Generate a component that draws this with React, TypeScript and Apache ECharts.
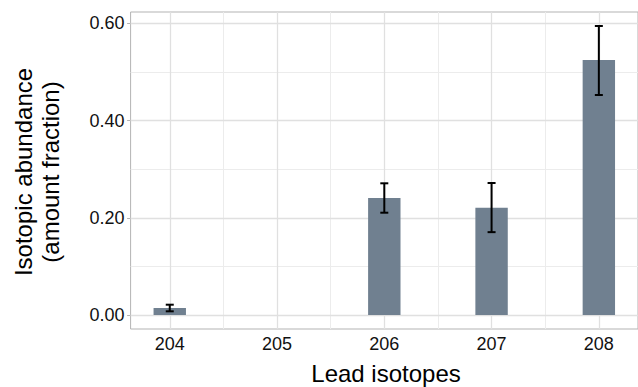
import React, { useEffect, useRef } from "react";
import * as echarts from "echarts";

const isotopes = [204, 205, 206, 207, 208];
const abundance = [0.0144, 0, 0.2407, 0.2205, 0.5247];
const errLow = [0.0076, null, 0.2105, 0.1705, 0.4527];
const errHigh = [0.0212, null, 0.271, 0.2716, 0.5947];
const yMajor = [0, 0.2, 0.4, 0.6];
const yMinor = [0.1, 0.3, 0.5];
const xMinor = [204.5, 205.5, 206.5, 207.5];

const FONT = "'Liberation Sans', Arial, Helvetica, sans-serif";

export default function App() {
  const ref = useRef<HTMLDivElement>(null);
  useEffect(() => {
    if (!ref.current) return;
    const chart = echarts.init(ref.current, undefined, { renderer: "svg" });
    const barData = isotopes.map((x, i) => [x, abundance[i]]);
    const errData = isotopes
      .map((x, i) => [x, errLow[i], errHigh[i]])
      .filter((d) => d[1] !== null);
    const majorLine = { color: "#e0e0e0", width: 1.3, type: "solid" };
    const minorLine = { color: "#ececec", width: 1, type: "solid" };
    chart.setOption({
      animation: false,
      grid: {
        left: 130.6,
        top: 12,
        bottom: 58,
        right: -3,
        show: true,
        borderColor: "#b3b3b3",
        borderWidth: 1,
        backgroundColor: "#fff",
      },
      xAxis: {
        type: "value",
        min: 203.635,
        max: 208.365,
        axisLine: { show: false },
        splitLine: { show: false },
        axisTick: { show: false },
        axisLabel: {
          customValues: isotopes,
          formatter: (v: number) => String(Math.round(v)),
          fontFamily: FONT,
          fontSize: 18,
          color: "#111",
          margin: 6,
        },
      },
      yAxis: {
        type: "value",
        min: -0.0288,
        max: 0.6235,
        axisLine: { show: false },
        splitLine: { show: false },
        axisTick: {
          show: true,
          customValues: yMajor,
          length: 3.5,
          lineStyle: { color: "#b3b3b3", width: 1 },
        },
        axisLabel: {
          customValues: yMajor,
          formatter: (v: number) => v.toFixed(2),
          fontFamily: FONT,
          fontSize: 18,
          color: "#111",
          margin: 6,
        },
      },
      graphic: [
        {
          type: "text",
          x: 37,
          y: 172,
          rotation: Math.PI / 2,
          style: {
            text: "Isotopic abundance\n(amount fraction)",
            align: "center",
            verticalAlign: "middle",
            font: `24px ${FONT}`,
            lineHeight: 27,
            fill: "#000",
          },
        },
        {
          type: "text",
          x: 386,
          y: 373,
          style: {
            text: "Lead isotopes",
            align: "center",
            verticalAlign: "middle",
            font: `24px ${FONT}`,
            fill: "#000",
          },
        },
      ],
      series: [
        {
          type: "line",
          data: [],
          silent: true,
          markLine: {
            silent: true,
            symbol: "none",
            z: 1,
            label: { show: false },
            data: [
              ...yMinor.map((v) => ({ yAxis: v, lineStyle: minorLine })),
              ...xMinor.map((v) => ({ xAxis: v, lineStyle: minorLine })),
              ...yMajor.map((v) => ({ yAxis: v, lineStyle: majorLine })),
              ...isotopes.map((v) => ({ xAxis: v, lineStyle: majorLine })),
            ],
          },
        },
        {
          type: "bar",
          data: barData,
          barWidth: 32.4,
          z: 2,
          itemStyle: { color: "#708090" },
        },
        {
          type: "custom",
          z: 3,
          data: errData,
          renderItem: (params: any, api: any) => {
            const x = api.value(0);
            const lo = api.coord([x, api.value(1)]);
            const hi = api.coord([x, api.value(2)]);
            const hw = 4;
            const style = { stroke: "#000", lineWidth: 2 };
            return {
              type: "group",
              children: [
                { type: "line", shape: { x1: lo[0], y1: lo[1], x2: hi[0], y2: hi[1] }, style },
                { type: "line", shape: { x1: hi[0] - hw, y1: hi[1], x2: hi[0] + hw, y2: hi[1] }, style },
                { type: "line", shape: { x1: lo[0] - hw, y1: lo[1], x2: lo[0] + hw, y2: lo[1] }, style },
              ],
            };
          },
        },
      ],
    });
    return () => chart.dispose();
  }, []);
  return (
    <div
      ref={ref}
      style={{ position: "fixed", left: 0, top: 0, width: 638, height: 387, background: "#fff" }}
    />
  );
}
